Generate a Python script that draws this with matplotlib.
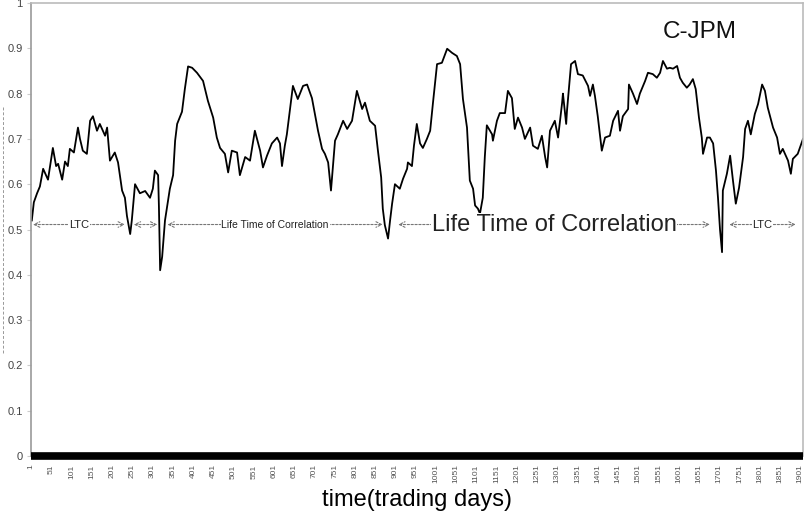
import matplotlib
matplotlib.use('Agg')
import matplotlib.pyplot as plt
from matplotlib.lines import Line2D

plt.rcParams['font.family'] = ['Liberation Sans', 'DejaVu Sans']

# correlation C-JPM (trading day, value)
days = [3, 8, 16, 23, 31, 38, 43, 55, 63, 68, 78, 85, 92, 97, 107, 117, 122, 129, 139,
        147, 154, 164, 171, 184, 189, 196, 208, 216, 226, 233, 238, 246, 250, 258, 270,
        283, 295, 302, 307, 315, 317, 320, 325, 332, 344, 352, 357, 362, 374, 381, 389,
        399, 411, 426, 438, 451, 460, 468, 480, 488, 497, 510, 517, 530, 542, 554, 567,
        574, 584, 596, 609, 616, 621, 628, 633, 648, 660, 673, 683, 695, 702, 710, 720,
        727, 735, 742, 752, 759, 772, 782, 794, 806, 819, 826, 838, 851, 858, 866, 870,
        875, 883, 888, 893, 900, 912, 920, 930, 932, 942, 947, 954, 962, 969, 979, 987,
        994, 1004, 1016, 1029, 1041, 1053, 1061, 1068, 1078, 1085, 1093, 1098, 1105, 1110,
        1117, 1122, 1127, 1140, 1142, 1152, 1159, 1172, 1179, 1189, 1196, 1204, 1214, 1221,
        1234, 1241, 1253, 1263, 1271, 1276, 1283, 1295, 1303, 1313, 1315, 1323, 1325, 1335,
        1345, 1352, 1364, 1377, 1382, 1389, 1394, 1401, 1411, 1419, 1431, 1439, 1451, 1456,
        1463, 1476, 1478, 1488, 1498, 1505, 1518, 1525, 1537, 1547, 1555, 1562, 1572, 1579,
        1587, 1597, 1604, 1611, 1621, 1628, 1636, 1643, 1651, 1658, 1661, 1671, 1678, 1686,
        1693, 1698, 1703, 1708, 1710, 1720, 1728, 1735, 1742, 1750, 1760, 1765, 1772, 1779,
        1789, 1797, 1807, 1814, 1821, 1834, 1844, 1851, 1858, 1871, 1878, 1883, 1895, 1908]
corr = [0.52, 0.56, 0.58, 0.595, 0.634, 0.62, 0.61, 0.68, 0.64, 0.645, 0.61, 0.65, 0.64,
        0.678, 0.67, 0.725, 0.70, 0.674, 0.667, 0.74, 0.75, 0.718, 0.733, 0.707, 0.725,
        0.652, 0.67, 0.648, 0.586, 0.57, 0.53, 0.49, 0.52, 0.60, 0.58, 0.585, 0.57, 0.59,
        0.63, 0.62, 0.55, 0.41, 0.44, 0.52, 0.59, 0.62, 0.696, 0.733, 0.76, 0.81, 0.86,
        0.857, 0.846, 0.828, 0.784, 0.747, 0.703, 0.68, 0.667, 0.626, 0.674, 0.67, 0.62,
        0.66, 0.652, 0.718, 0.674, 0.637, 0.663, 0.69, 0.703, 0.69, 0.64, 0.685, 0.71,
        0.817, 0.788, 0.817, 0.82, 0.79, 0.757, 0.718, 0.678, 0.667, 0.648, 0.586, 0.696,
        0.71, 0.74, 0.722, 0.74, 0.806, 0.766, 0.78, 0.74, 0.729, 0.674, 0.615, 0.546,
        0.51, 0.48, 0.52, 0.557, 0.60, 0.59, 0.612, 0.634, 0.648, 0.64, 0.685, 0.733,
        0.69, 0.68, 0.70, 0.718, 0.78, 0.865, 0.868, 0.899, 0.89, 0.883, 0.865, 0.788,
        0.725, 0.608, 0.59, 0.553, 0.546, 0.535, 0.57, 0.66, 0.73, 0.71, 0.696, 0.74,
        0.757, 0.757, 0.806, 0.79, 0.722, 0.747, 0.725, 0.70, 0.725, 0.685, 0.678, 0.707,
        0.66, 0.637, 0.718, 0.74, 0.703, 0.78, 0.80, 0.733, 0.762, 0.865, 0.872, 0.843,
        0.84, 0.817, 0.795, 0.82, 0.795, 0.75, 0.674, 0.703, 0.707, 0.74, 0.762, 0.718,
        0.75, 0.766, 0.82, 0.80, 0.777, 0.80, 0.828, 0.846, 0.843, 0.835, 0.846, 0.872,
        0.855, 0.857, 0.855, 0.861, 0.835, 0.824, 0.813, 0.82, 0.832, 0.81, 0.747, 0.703,
        0.667, 0.703, 0.703, 0.69, 0.63, 0.57, 0.50, 0.45, 0.586, 0.623, 0.663, 0.608,
        0.557, 0.592, 0.66, 0.722, 0.74, 0.71, 0.755, 0.777, 0.82, 0.806, 0.769, 0.725,
        0.703, 0.667, 0.678, 0.652, 0.623, 0.656, 0.667, 0.70]

x_ticks = list(range(1, 1902, 50))
y_ticks = [0, 0.1, 0.2, 0.3, 0.4, 0.5, 0.6, 0.7, 0.8, 0.9, 1]
y_labels = ['0', '0.1', '0.2', '0.3', '0.4', '0.5', '0.6', '0.7', '0.8', '0.9', '1']

# life-time-of-correlation spans: (start day, end day, label, font size)
spans = [(6, 233, 'LTC', 8), (255, 313, '', 8), (338, 870, 'Life Time of Correlation', 7.5),
         (908, 1678, 'Life Time of Correlation', 17), (1726, 1890, 'LTC', 8)]
span_y = 0.511

fig = plt.figure(figsize=(8.06, 5.2), dpi=100)
ax = fig.add_axes([31 / 806, 1 - 456 / 520, 772 / 806, 453 / 520])

ax.plot(days, corr, color='black', lw=1.3)
ax.axhline(0, color='black', lw=5.5, clip_on=False, zorder=3, solid_capstyle='butt')

for d0, d1, label, fs in spans:
    ax.annotate('', xy=(d1, span_y), xytext=(d0, span_y),
                arrowprops=dict(arrowstyle='<->', color='#777777', lw=0.8,
                                linestyle=(0, (2, 1.5)), shrinkA=0, shrinkB=0))
    if label:
        ax.text((d0 + d1) / 2, span_y, label, fontsize=fs, color='#222222',
                ha='center', va='center',
                bbox=dict(facecolor='white', edgecolor='none', pad=0.5))

ax.text(1653, 0.935, 'C-JPM', fontsize=17.5, ha='center', va='center', color='#111111')

ax.set_xlim(1, 1908)
ax.set_ylim(0, 1)
ax.set_xticks(x_ticks)
ax.set_xticklabels([str(t) for t in x_ticks], rotation=90, fontsize=6, color='#555555')
ax.set_yticks(y_ticks)
ax.set_yticklabels(y_labels, fontsize=8, color='#444444')
ax.tick_params(axis='x', length=0, pad=6)
ax.tick_params(axis='y', length=3, color='#cccccc', pad=3)

for side in ['left', 'top', 'right']:
    ax.spines[side].set_color('#999999')
    ax.spines[side].set_linewidth(1.2)
ax.spines['top'].set_color('#bbbbbb')
ax.spines['right'].set_color('#bbbbbb')
ax.spines['bottom'].set_visible(False)

ax.set_xlabel('time(trading days)', fontsize=17, labelpad=4)

# leftover dashed edge at the far left of the reference
fig.add_artist(Line2D([3 / 806, 3 / 806], [1 - 107 / 520, 1 - 353 / 520],
                      color='#999999', lw=0.7, linestyle=(0, (3, 2))))

fig.savefig('out.png', dpi=100)
